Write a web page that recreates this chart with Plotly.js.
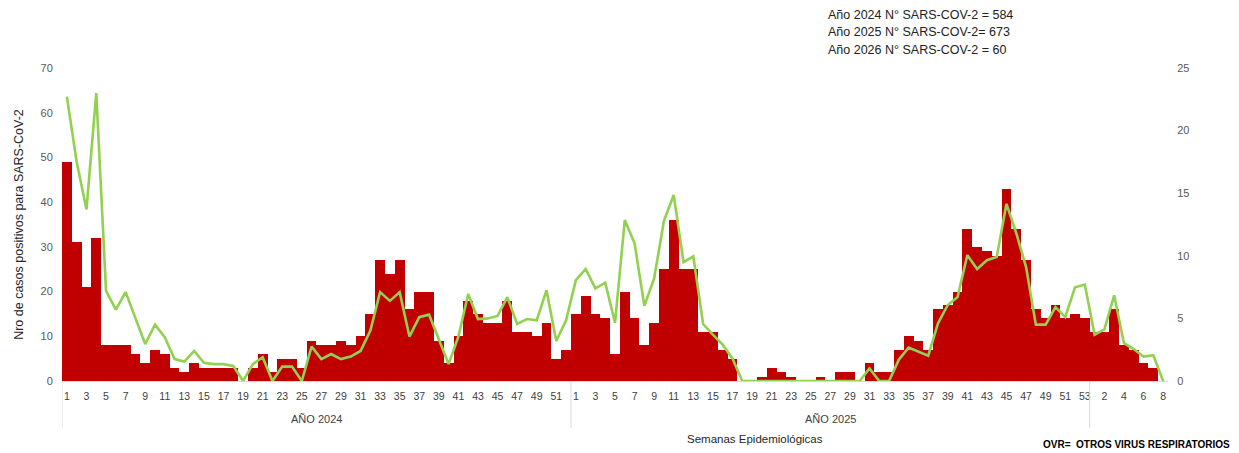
<!DOCTYPE html>
<html>
<head>
<meta charset="utf-8">
<script src="https://cdn.plot.ly/plotly-3.0.1.min.js"></script>
<style>
  html, body { margin: 0; padding: 0; background: #ffffff; }
  #chart { width: 1239px; height: 453px; }
</style>
</head>
<body>
<div id="chart"></div>
<script>
// ---- Data ----
const years = ["2024", "2025", "2026"];
const weeksPerYear = [52, 53, 8];

// SARS-CoV-2 positive cases per epidemiological week (left axis, bars)
const sars2024 = [49,31,21,32,8,8,8,6,4,7,6,3,2,4,3,3,3,3,0,3,6,2,5,5,3,9,8,8,9,8,10,15,27,24,27,16,20,20,9,4,10,18,15,13,13,18,11,11,10,13,5,7];
const sars2025 = [15,19,15,14,6,20,14,8,13,25,36,25,25,11,11,7,5,0,0,1,3,2,1,0,0,1,0,2,2,0,4,2,2,7,10,9,7,16,17,20,34,30,29,28,43,34,27,16,14,17,14,15,14];
const sars2026 = [11,11,16,8,7,4,3,0];

// OVR (otros virus respiratorios) per week (right axis, line)
const ovr2024 = [22.7,17.5,13.7,23.0,7.2,5.7,7.1,5.0,2.95,4.5,3.5,1.75,1.55,2.4,1.45,1.35,1.35,1.2,0,1.35,1.9,0,1.15,1.15,0,2.75,1.75,2.15,1.75,1.95,2.4,4.0,7.1,6.4,7.1,3.55,5.1,5.3,3.3,1.35,3.55,6.95,4.95,5.0,5.2,6.7,4.55,4.95,4.85,7.25,3.2,4.85];
const ovr2025 = [8.05,8.95,7.4,7.85,4.65,12.85,11.0,6.0,8.2,12.8,14.85,9.5,9.95,4.55,3.7,2.9,1.8,0,0,0,0,0,0,0,0,0,0,0,0,0,1.0,0,0,1.7,2.67,2.34,2.02,4.6,6.07,6.7,10.05,8.95,9.65,9.9,14.15,11.8,9.1,4.5,4.5,5.9,5.1,7.48,7.7];
const ovr2026 = [3.7,4.12,6.85,3.02,2.55,1.95,2.06,0];

const yearLabels = ["AÑO 2024", "AÑO 2025"];
const summaryLines = [
  "Año 2024 N° SARS-COV-2 = 584",
  "Año 2025 N° SARS-COV-2= 673",
  "Año 2026 N° SARS-COV-2 = 60"
];

// ---- Build category axis ----
const cats = [], weekNums = [];
years.forEach((y, yi) => {
  for (let w = 1; w <= weeksPerYear[yi]; w++) { cats.push(y + "-" + w); weekNums.push(w); }
});
const sars = sars2024.concat(sars2025, sars2026);
const ovr = ovr2024.concat(ovr2025, ovr2026);
const tickvals = cats.filter((c, i) => i % 2 === 0);
const ticktext = weekNums.filter((c, i) => i % 2 === 0).map(String);

// group boundaries (index positions)
const bounds = [];
let acc = 0;
weeksPerYear.forEach(n => { bounds.push(acc - 0.5); acc += n; });
const groupCenters = [];
acc = 0;
weeksPerYear.forEach(n => { groupCenters.push(acc + (n - 1) / 2); acc += n; });

const FONT = "'Liberation Sans', Arial, sans-serif";

const traces = [
  {
    type: "bar", x: cats, y: sars, yaxis: "y",
    marker: { color: "#c00000", line: { width: 0 } },
    hoverinfo: "x+y"
  },
  {
    type: "scatter", mode: "lines", x: cats, y: ovr, yaxis: "y2",
    line: { color: "#92d050", width: 2.6 },
    hoverinfo: "x+y"
  }
];

const shapes = bounds.map(b => ({
  type: "line", xref: "x", yref: "paper", x0: b, x1: b, y0: 0, y1: -0.15,
  line: { color: "#d9d9d9", width: 1 }
}));

const annotations = [];
yearLabels.forEach((t, i) => {
  annotations.push({ text: t, xref: "x", yref: "paper", x: groupCenters[i], y: -0.121, yanchor: "middle",
    showarrow: false, font: { family: FONT, size: 11, color: "#404040" } });
});
const lineY = [15, 32, 50];
summaryLines.forEach((t, i) => {
  annotations.push({ text: t, xref: "paper", yref: "paper", x: 0.6908, xanchor: "left",
    y: (381 - lineY[i]) / 313, yanchor: "middle", showarrow: false,
    font: { family: FONT, size: 12.5, color: "#222222" } });
});
annotations.push({ text: "Semanas Epidemiológicas", xref: "paper", yref: "paper", x: 0.69, y: -0.1853,
  yanchor: "middle", showarrow: false, font: { family: FONT, size: 11.5, color: "#262626" } });
annotations.push({ text: "<b>OVR=  OTROS VIRUS RESPIRATORIOS</b>", xref: "paper", yref: "paper",
  x: 1.0579, xanchor: "right", y: -0.2013, yanchor: "middle", showarrow: false,
  font: { family: FONT, size: 10, color: "#000000" } });

const layout = {
  width: 1239, height: 453,
  margin: { l: 62, r: 71, t: 68, b: 72 },
  paper_bgcolor: "#ffffff", plot_bgcolor: "#ffffff",
  showlegend: false,
  bargap: 0,
  font: { family: FONT, color: "#595959" },
  xaxis: {
    type: "category", range: [-0.5, cats.length - 0.5],
    tickmode: "array", tickvals: tickvals, ticktext: ticktext, tickangle: 0,
    tickfont: { family: FONT, size: 10.5, color: "#404040" },
    ticks: "outside", ticklen: 5, tickcolor: "rgba(0,0,0,0)",
    showline: true, linecolor: "#d9d9d9", linewidth: 1,
    showgrid: false, zeroline: false, fixedrange: true
  },
  yaxis: {
    range: [0, 70], dtick: 10, showgrid: false, zeroline: false, showline: false,
    ticks: "outside", ticklen: 6, tickcolor: "rgba(0,0,0,0)",
    tickfont: { family: FONT, size: 11, color: "#595959" },
    title: { text: "Nro de casos positivos para SARS-CoV-2", standoff: 14,
      font: { family: FONT, size: 12.5, color: "#262626" } }
  },
  yaxis2: {
    range: [0, 25], dtick: 5, overlaying: "y", side: "right",
    showgrid: false, zeroline: false, showline: false,
    ticks: "outside", ticklen: 6, tickcolor: "rgba(0,0,0,0)",
    tickfont: { family: FONT, size: 11, color: "#595959" }
  },
  shapes: shapes,
  annotations: annotations
};

Plotly.newPlot("chart", traces, layout, { displayModeBar: false, staticPlot: true });
</script>
</body>
</html>
